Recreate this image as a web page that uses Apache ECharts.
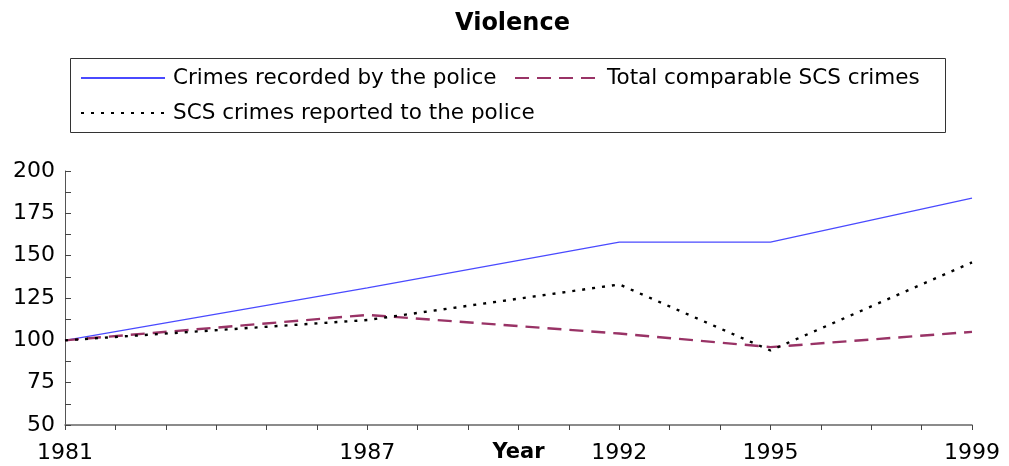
<!DOCTYPE html>
<html>
<head>
<meta charset="utf-8">
<script src="https://cdn.jsdelivr.net/npm/echarts@6/dist/echarts.min.js"></script>
<style>
html,body{margin:0;padding:0;background:#fff;}
#chart{width:1009px;height:466px;}
</style>
</head>
<body>
<div id="chart"></div>
<script>
const years = [];
for (let y = 1981; y <= 1999; y++) years.push(String(y));
const labeledYears = ['1981', '1987', '1992', '1995', '1999'];
const dataYears = ['1981', '1987', '1992', '1995', '1999'];
const policeRecorded = [100, 131, 158, 158, 184];
const scsTotal = [100, 115, 104, 96, 105];
const scsReported = [100, 112, 133, 94, 146];
const yTicks = [50, 75, 100, 125, 150, 175, 200];

const names = ['Crimes recorded by the police', 'Total comparable SCS crimes', 'SCS crimes reported to the police'];

function toSeries(vals) {
  return years.map(y => {
    const i = dataYears.indexOf(y);
    return i >= 0 ? vals[i] : null;
  });
}

const font = 'DejaVu Sans';
const chart = echarts.init(document.getElementById('chart'), null, {renderer: 'canvas'});
const legendCommon = {
  itemWidth: 84, itemHeight: 14,
  itemStyle: {opacity: 0},
  textStyle: {fontFamily: font, fontSize: 21.5, color: '#000', padding: [0, 0, 0, 3]},
  selectedMode: false, padding: 0
};
chart.setOption({
  animation: false,
  backgroundColor: '#fff',
  title: {
    text: 'Violence', left: 455, top: 12, padding: 0,
    textStyle: {fontFamily: font, fontWeight: 'bold', fontSize: 24, color: '#000'}
  },
  graphic: [{
    type: 'rect', left: 68, top: 56,
    shape: {width: 875, height: 74},
    style: {fill: 'none', stroke: '#333', lineWidth: 1}
  }],
  legend: [
    Object.assign({data: [names[0]], left: 80, top: 67}, legendCommon),
    Object.assign({data: [names[1]], left: 514, top: 67}, legendCommon),
    Object.assign({data: [names[2]], left: 80, top: 102}, legendCommon)
  ],
  grid: {left: 65, right: 37, top: 171, bottom: 41, containLabel: false, outerBoundsMode: 'none'},
  xAxis: {
    type: 'category', data: years, boundaryGap: false,
    name: 'Year', nameLocation: 'middle', nameGap: 17, nameMoveOverlap: false,
    nameTextStyle: {fontFamily: font, fontWeight: 'bold', fontSize: 21, color: '#000', verticalAlign: 'top'},
    axisLine: {lineStyle: {color: '#666', width: 1.5}},
    axisTick: {show: true, interval: 0, length: 5, lineStyle: {color: '#444'}},
    axisLabel: {
      interval: (idx, val) => labeledYears.includes(val),
      margin: 17, fontFamily: font, fontSize: 22, color: '#000'
    },
    splitLine: {show: false}
  },
  yAxis: {
    type: 'value', min: yTicks[0], max: yTicks[yTicks.length - 1], interval: 25,
    axisLine: {show: true, lineStyle: {color: '#555', width: 1}},
    axisTick: {show: true, inside: true, length: 6, lineStyle: {color: '#444'}},
    minorTick: {show: true, splitNumber: 2, length: 6, lineStyle: {color: '#444'}},
    axisLabel: {margin: 10, fontFamily: font, fontSize: 22, color: '#000'},
    splitLine: {show: false}
  },
  series: [
    {
      name: names[0], type: 'line', data: toSeries(policeRecorded), connectNulls: true,
      symbol: 'none', lineStyle: {color: '#4a4aff', width: 1.2, type: 'solid'},
      itemStyle: {color: '#4a4aff'}
    },
    {
      name: names[1], type: 'line', data: toSeries(scsTotal), connectNulls: true,
      symbol: 'none', lineStyle: {color: '#993366', width: 2.4, type: [14, 8]},
      itemStyle: {color: '#993366'}
    },
    {
      name: names[2], type: 'line', data: toSeries(scsReported), connectNulls: true,
      symbol: 'none', lineStyle: {color: '#000', width: 2.4, type: [3, 7]},
      itemStyle: {color: '#000'}
    }
  ]
});
</script>
</body>
</html>
